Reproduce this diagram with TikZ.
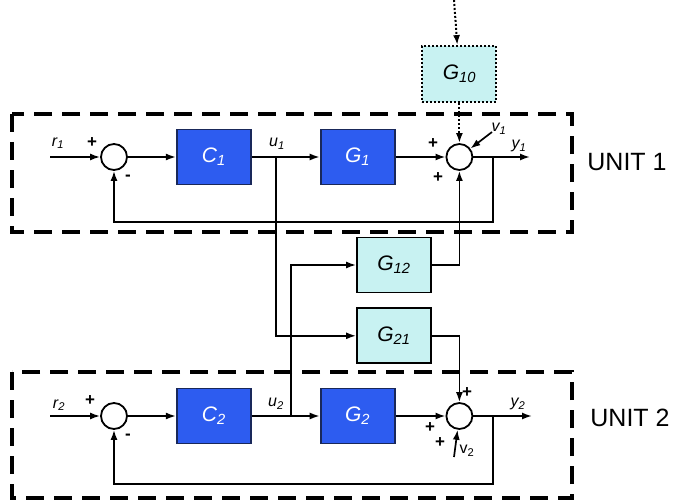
\documentclass[tikz,border=0pt]{standalone}
\usepackage{fontspec}
\setmainfont{Liberation Sans}
\usepackage{xcolor}
\usepackage{tikz}
\usetikzlibrary{arrows.meta,positioning}

\definecolor{ctrlblue}{RGB}{45,92,240}
\definecolor{ctrledge}{RGB}{25,40,90}
\definecolor{plantcyan}{RGB}{200,242,242}

\begin{document}
\begin{tikzpicture}[
      x=1pt, y=-1pt,
      blk/.style={draw=ctrledge, line width=1.8pt, fill=ctrlblue, text=white,
          minimum width=74pt, minimum height=55pt, inner sep=0pt,
          font=\fontsize{21}{23}\selectfont\itshape},
      cpl/.style={draw=black, line width=1.8pt, fill=plantcyan,
          minimum width=74pt, minimum height=55pt, inner sep=0pt,
          font=\fontsize{21}{23}\selectfont\itshape},
      adder/.style={draw, circle, line width=1.8pt, minimum size=26pt, inner sep=0pt},
      arrow/.style={-{Latex[length=10pt,width=7pt]}, line width=1.7pt},
      dotline/.style={dash pattern=on 2pt off 2pt, line width=2pt},
      sig/.style={font=\fontsize{16}{17}\selectfont\itshape, inner sep=0pt},
      sgn/.style={font=\fontsize{17}{17}\selectfont\bfseries, inner sep=0pt},
      unitframe/.style={line width=3.4pt, dash pattern=on 18pt off 10pt},
      unitlbl/.style={font=\fontsize{25}{27}\selectfont, inner sep=0pt}
    ]
    \useasboundingbox (0,0) rectangle (673,503);

    % unit 1
    \draw[unitframe] (12,114) rectangle (572,232);
    \node[adder] (s1) at (114,157) {};
    \node[blk, right=48pt of s1] (C1) {C\textsubscript{1}};
    \node[blk, right=68pt of C1] (G1) {G\textsubscript{1}};
    \node[adder, right=50pt of G1] (y1sum) {};
    \node[cpl, dotline, minimum height=56pt, above=40pt of y1sum] (G10) {G\textsubscript{10}};
    \coordinate (r1in) at (50,157);
    \coordinate (u1) at (276,157);
    \coordinate (fb1) at (493,157);
    \coordinate (y1out) at (530,157);
    \coordinate (v1in) at (492,132);
    \coordinate (top10) at (454,0);

    \draw[arrow] (r1in) -- (s1);
    \draw[arrow] (s1) -- (C1);
    \draw[arrow] (C1) -- (G1);
    \draw[arrow] (G1) -- (y1sum);
    \draw[arrow] (y1sum) -- (y1out);
    \draw[arrow] (fb1) -- ++(0,65) -| (s1.south);
    \draw[arrow] (v1in) -- (y1sum);
    \draw[arrow, dotline] (top10) -- (G10);
    \draw[arrow, dotline] (G10) -- (y1sum);

    \node[sig] at (58,143) {r\textsubscript{1}};
    \node[sgn] at (92,143) {+};
    \node[sgn] at (128,178) {-};
    \node[sig] at (277,144) {u\textsubscript{1}};
    \node[sgn] at (433,144) {+};
    \node[sgn] at (438,178) {+};
    \node[sig] at (499,129) {v\textsubscript{1}};
    \node[sig] at (519,146) {y\textsubscript{1}};
    \node[unitlbl] at (627,162) {UNIT 1};

    % couplings
    \node[cpl] (G12) at (394,265) {G\textsubscript{12}};
    \node[cpl, below=14pt of G12] (G21) {G\textsubscript{21}};

    % unit 2
    \draw[unitframe] (12,372) rectangle (572,498);
    \node[adder] (s2) at (114,416) {};
    \node[blk, right=48pt of s2] (C2) {C\textsubscript{2}};
    \node[blk, right=68pt of C2] (G2) {G\textsubscript{2}};
    \node[adder, right=50pt of G2] (y2sum) {};
    \coordinate (r2in) at (50,416);
    \coordinate (u2) at (291,416);
    \coordinate (fb2) at (493,416);
    \coordinate (y2out) at (532,416);
    \coordinate (v2in) at (454,457);

    \draw[arrow] (r2in) -- (s2);
    \draw[arrow] (s2) -- (C2);
    \draw[arrow] (C2) -- (G2);
    \draw[arrow] (G2) -- (y2sum);
    \draw[arrow] (y2sum) -- (y2out);
    \draw[arrow] (fb2) -- ++(0,68) -| (s2.south);
    \draw[arrow] (v2in) -- (y2sum);

    \draw[arrow] (u1) |- (G21.west);
    \draw[arrow] (u2) |- (G12.west);
    \draw[arrow] (G12.east) -| (y1sum.south);
    \draw[arrow] (G21.east) -| (y2sum.north);

    \node[sig] at (59,405) {r\textsubscript{2}};
    \node[sgn] at (90,401) {+};
    \node[sgn] at (128,437) {-};
    \node[sig] at (276,404) {u\textsubscript{2}};
    \node[sgn] at (467,393) {+};
    \node[sgn] at (430,428) {+};
    \node[sgn] at (440,443) {+};
    \node[sig, font=\fontsize{16}{17}\selectfont] at (467,451) {v\textsubscript{2}};
    \node[sig] at (518,404) {y\textsubscript{2}};
    \node[unitlbl] at (630,418) {UNIT 2};
  \end{tikzpicture}
\end{document}
